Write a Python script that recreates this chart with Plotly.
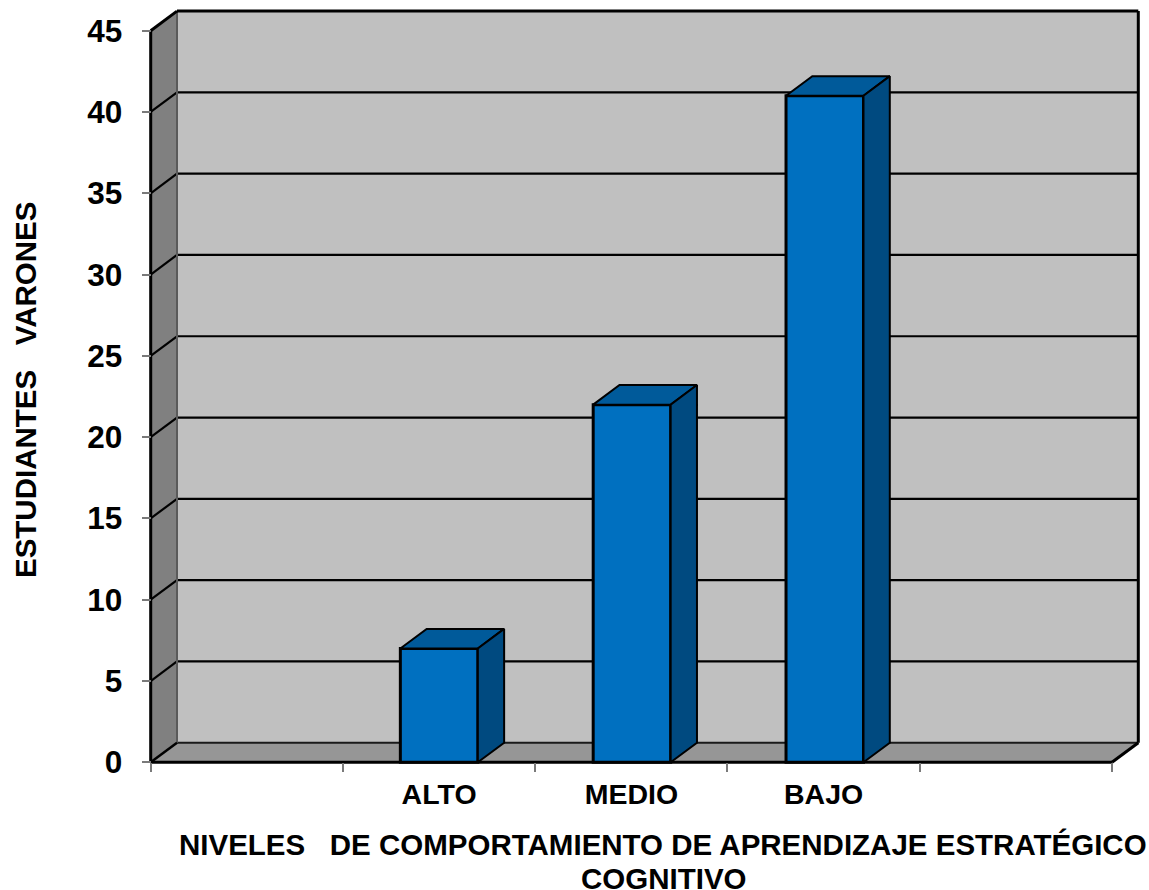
import plotly.graph_objects as go

# Chart data
categories = ["ALTO", "MEDIO", "BAJO"]
category_slots = [1.5, 2.5, 3.5]
students = [7, 22, 41]
value_ticks = [0, 5, 10, 15, 20, 25, 30, 35, 40, 45]
slot_edges = [0, 1, 2, 3, 4, 5]

# Page geometry and the oblique depth of the box, in pixels
PAGE_W, PAGE_H = 1149, 890
LEFT_PX, RIGHT_PX = 150.7, 1112.0
ZERO_PX, TOP_PX = 762.3, 30.7
DEPTH_X_PX, DEPTH_Y_PX = 26.3, 19.6

px_per_x = (RIGHT_PX - LEFT_PX) / slot_edges[-1]
px_per_y = (ZERO_PX - TOP_PX) / value_ticks[-1]
dx = DEPTH_X_PX / px_per_x
dy = DEPTH_Y_PX / px_per_y
x_max = slot_edges[-1]
y_max = value_ticks[-1]
bar_width = 0.403
# Bars step very slightly wider than the axis slots
bar_pitch = 1.003
bar_centers = [category_slots[0] + i * bar_pitch for i in range(len(students))]

WALL = "#C0C0C0"
SIDE_WALL = "#808080"
FLOOR = "#969696"
BAR_FRONT = "#0070C0"
BAR_TOP = "#005A9A"
BAR_SIDE = "#004A80"
INK = "#000000"
TICK = "#7A7A7A"
FONT = "Liberation Sans"


def polygon(xs, ys, fill, line_color=None, width=0):
    path = "M " + " L ".join(f"{x},{y}" for x, y in zip(xs, ys)) + " Z"
    return dict(type="path", path=path, xref="x", yref="y", layer="below",
                fillcolor=fill, line=dict(color=line_color or fill, width=width))


def segment(x0, y0, x1, y1, color=INK, width=2):
    return dict(type="line", x0=x0, y0=y0, x1=x1, y1=y1, xref="x", yref="y",
                layer="below", line=dict(color=color, width=width))


def bold(size):
    return dict(family=FONT, size=size, color=INK, weight="bold")


def caption(text, x_px, y_px, angle=0):
    return dict(text=text, xref="paper", yref="paper",
                x=x_px / PAGE_W, y=1 - y_px / PAGE_H,
                xanchor="center", yanchor="middle", showarrow=False,
                textangle=angle, font=bold(29.5))


shapes = [
    # back wall, left wall, floor
    polygon([dx, x_max + dx, x_max + dx, dx], [dy, dy, y_max + dy, y_max + dy], WALL),
    polygon([0, dx, dx, 0], [0, dy, y_max + dy, y_max], SIDE_WALL),
    polygon([0, x_max, x_max + dx, dx], [0, 0, dy, dy], FLOOR),
]

# Gridlines wrap from the left wall onto the back wall
for v in value_ticks[1:-1]:
    shapes.append(segment(0, v, dx, v + dy, width=2.2))
    shapes.append(segment(dx, v + dy, x_max + dx, v + dy, width=2.2))

shapes += [
    segment(dx, dy, x_max + dx, dy, color="#1A1A1A", width=2),
    segment(dx, dy, dx, y_max + dy, color="#5A5A5A", width=2),
    segment(0, 0, dx, dy, width=2.5),
    segment(0, y_max, dx, y_max + dy, width=3),
    segment(dx, y_max + dy, x_max + dx, y_max + dy, width=3),
    segment(x_max + dx, y_max + dy, x_max + dx, dy, width=3),
    segment(x_max + dx, dy, x_max, 0, width=3),
    segment(0, 0, x_max, 0, width=3),
    segment(0, 0, 0, y_max, width=3),
]

fig = go.Figure()

fig.add_trace(go.Bar(
    x=bar_centers, y=students, width=bar_width,
    marker=dict(color=BAR_FRONT, line=dict(color=INK, width=3)),
    showlegend=False, hoverinfo="y",
))

# Top and side faces of each bar, offset from its value by the box depth
for center, value in zip(bar_centers, students):
    left, right = center - bar_width / 2, center + bar_width / 2
    fig.add_trace(go.Scatter(
        x=[left, right, right + dx, left + dx, left],
        y=[value, value, value + dy, value + dy, value],
        mode="lines", fill="toself", fillcolor=BAR_TOP,
        line=dict(color=INK, width=2), showlegend=False, hoverinfo="skip",
    ))
    fig.add_trace(go.Scatter(
        x=[right, right + dx, right + dx, right, right],
        y=[0, dy, value + dy, value, 0],
        mode="lines", fill="toself", fillcolor=BAR_SIDE,
        line=dict(color=INK, width=2), showlegend=False, hoverinfo="skip",
    ))

fig.update_layout(
    width=PAGE_W, height=PAGE_H, autosize=False,
    margin=dict(l=0, r=0, t=0, b=0),
    paper_bgcolor="white", plot_bgcolor="white",
    showlegend=False, shapes=shapes,
    xaxis=dict(
        domain=[0, 1],
        range=[-LEFT_PX / px_per_x, (PAGE_W - LEFT_PX) / px_per_x],
        anchor="free", position=1 - ZERO_PX / PAGE_H,
        showgrid=False, zeroline=False, showline=False,
        tickmode="array", tickvals=category_slots, ticktext=categories,
        ticks="outside", ticklen=6, tickcolor="rgba(0,0,0,0)", tickwidth=1,
        tickfont=bold(28.5),
        minor=dict(tickmode="array", tickvals=slot_edges, ticks="outside",
                   ticklen=9, tickcolor=TICK, tickwidth=1.5, showgrid=False),
    ),
    yaxis=dict(
        domain=[0, 1],
        range=[-(PAGE_H - ZERO_PX) / px_per_y, ZERO_PX / px_per_y],
        anchor="free", position=LEFT_PX / PAGE_W,
        showgrid=False, zeroline=False, showline=False,
        tickmode="array", tickvals=value_ticks,
        ticks="outside", ticklen=9, tickcolor=TICK, tickwidth=1.5,
        ticklabelstandoff=13,
        tickfont=bold(31.5),
    ),
    annotations=[
        caption("NIVELES\u00a0\u00a0\u00a0DE COMPORTAMIENTO DE APRENDIZAJE ESTRATÉGICO", 663, 844.5),
        caption("COGNITIVO", 664, 878),
        caption("ESTUDIANTES\u00a0\u00a0\u00a0VARONES", 26, 390, angle=-90),
    ],
)

fig.write_html("out.html")
